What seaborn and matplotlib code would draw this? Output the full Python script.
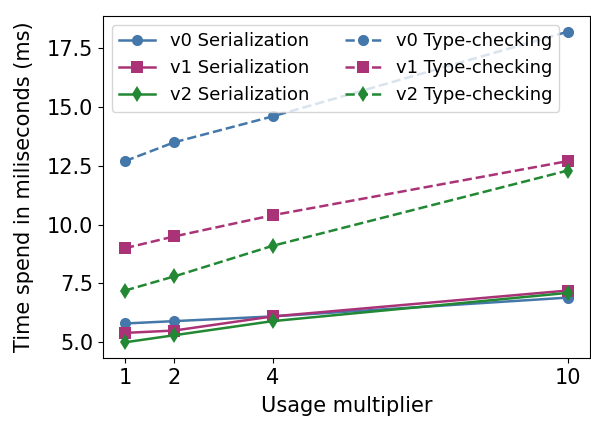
import numpy as np
import pandas as pd
import matplotlib
matplotlib.use('Agg')
import matplotlib.pyplot as plt
from matplotlib.ticker import MultipleLocator
import seaborn as sns

multipliers = [1, 2, 4, 10]

v0_ser = [5.8, 5.9, 6.1, 6.9]
v1_ser = [5.4, 5.5, 6.1, 7.2]
v2_ser = [5.0, 5.3, 5.9, 7.1]

v0_tc = [12.7, 13.5, 14.6, 18.2]
v1_tc = [9.0, 9.5, 10.4, 12.7]
v2_tc = [7.2, 7.8, 9.1, 12.3]

colors = ['#4477AA', '#AA3377', '#228833']
markers = ['o', 's', 'd']

plt.rcParams['font.family'] = ['DejaVu Sans']

fig, ax = plt.subplots(figsize=(5.91, 4.26), dpi=100)

ser = [v0_ser, v1_ser, v2_ser]
tc = [v0_tc, v1_tc, v2_tc]

for i, vals in enumerate(ser):
    sns.lineplot(x=multipliers, y=vals, ax=ax, color=colors[i], marker=markers[i],
                 markersize=8, linewidth=1.8, markeredgewidth=0,
                 label='v%d Serialization' % i)
for i, vals in enumerate(tc):
    sns.lineplot(x=multipliers, y=vals, ax=ax, color=colors[i], marker=markers[i],
                 markersize=8, linewidth=1.8, markeredgewidth=0, linestyle='--',
                 label='v%d Type-checking' % i)

ax.set_xticks(multipliers)
ax.yaxis.set_major_locator(MultipleLocator(2.5))
ax.tick_params(labelsize=15)
ax.set_xlabel('Usage multiplier', fontsize=15, labelpad=6)
ax.set_ylabel('Time spend in miliseconds (ms)', fontsize=15, labelpad=9)
ax.legend(ncol=2, loc='upper left', fontsize=13, handlelength=2)

plt.subplots_adjust(left=0.174, right=0.998, top=0.962, bottom=0.16)
plt.savefig('out.png')
